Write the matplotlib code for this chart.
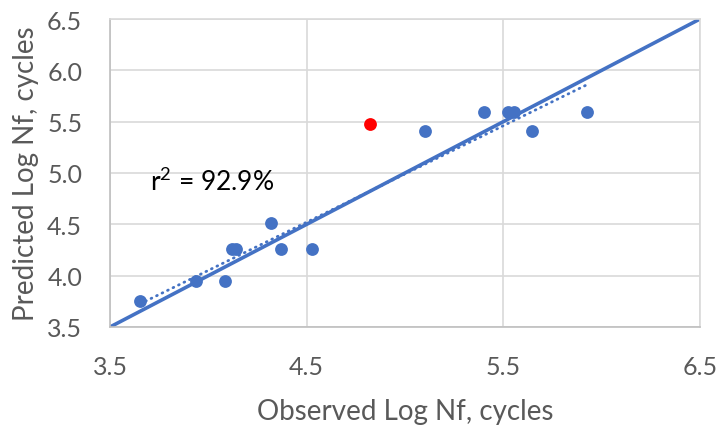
import numpy as np
import matplotlib
matplotlib.use("Agg")
import matplotlib.pyplot as plt

plt.rcParams['font.family'] = ['Lato', 'DejaVu Sans']
plt.rcParams['mathtext.fontset'] = 'custom'
plt.rcParams['mathtext.rm'] = 'Lato'
plt.rcParams['mathtext.it'] = 'Lato:italic'
plt.rcParams['mathtext.default'] = 'regular'

obs = [3.653, 3.937, 4.085, 4.120, 4.141, 4.319, 4.369, 4.527, 5.101, 5.401, 5.524, 5.554, 5.646, 5.925]
pred = [3.753, 3.948, 3.948, 4.260, 4.260, 4.513, 4.260, 4.260, 5.409, 5.594, 5.594, 5.594, 5.409, 5.594]
obs_red = [4.822]
pred_red = [5.477]
ticks = [3.5, 4.5, 5.5, 6.5]
yticks = [3.5, 4.0, 4.5, 5.0, 5.5, 6.0, 6.5]
r2_text = "r$^2$ = 92.9%"
xlabel = "Observed Log Nf, cycles"
ylabel = "Predicted Log Nf, cycles"

blue = '#4472C4'
W, H = 720, 427
fig = plt.figure(figsize=(7.2, 4.27), dpi=100)
ax = fig.add_axes([110 / W, 1 - 328 / H, 590 / W, 308 / H])

ax.set_xlim(3.5, 6.5)
ax.set_ylim(3.5, 6.5)
ax.set_xticks(ticks)
ax.set_yticks(yticks)
ax.set_xticklabels([f"{t:.1f}" for t in ticks])
ax.set_yticklabels([f"{t:.1f}" for t in yticks])
ax.grid(True, color='#D9D9D9', linewidth=1.2)
ax.set_axisbelow(True)
for s in ax.spines.values():
    s.set_color('#D9D9D9')
    s.set_linewidth(1.2)
ax.spines['left'].set_color('#BFBFBF')
ax.spines['bottom'].set_color('#BFBFBF')
ax.tick_params(length=0, labelsize=18, colors='#595959')
ax.tick_params(axis='x', pad=20)
ax.tick_params(axis='y', pad=20)

# 1:1 line
ax.plot([3.5, 6.5], [3.5, 6.5], color=blue, linewidth=2.6, zorder=2)
# linear trendline
coef = np.polyfit(obs, pred, 1)
xs = np.array([min(obs), max(obs)])
ax.plot(xs, np.polyval(coef, xs), color=blue, linewidth=2.0, linestyle=(0, (0.3, 1.9)),
        dash_capstyle='round', zorder=2)

ax.scatter(obs, pred, s=85, color=blue, zorder=3, linewidths=0)
ax.scatter(obs_red, pred_red, s=85, color='#FF0000', zorder=3, linewidths=0)

ax.text(3.703, 4.834, r2_text, fontsize=19, color='#000000', va='baseline', ha='left')

fig.text(0.5 * (110 + 700) / W, 1 - 412 / H, xlabel, fontsize=20, color='#595959',
         ha='center', va='center')
fig.text(26 / W, 1 - 174 / H, ylabel, fontsize=20, color='#595959',
         ha='center', va='center', rotation=90)

fig.savefig("out.png", dpi=100)
